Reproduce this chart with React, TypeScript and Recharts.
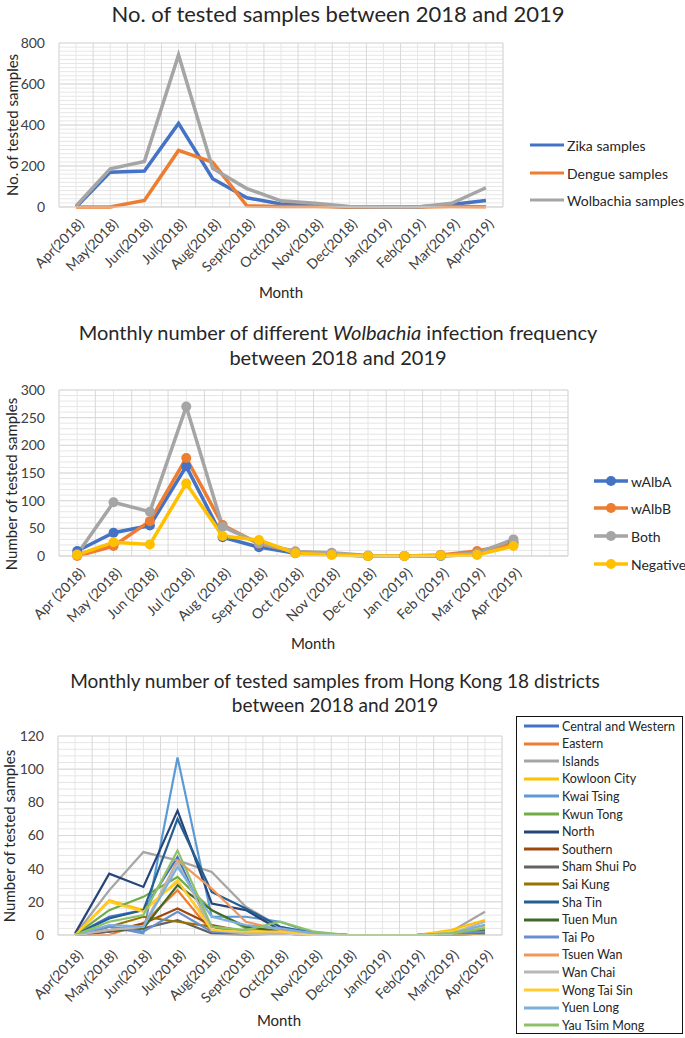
import { LineChart, Line, XAxis, YAxis, CartesianGrid } from "recharts";

// ---- chart 1: tested samples per month
const months1 = [
  "Apr(2018)", "May(2018)", "Jun(2018)", "Jul(2018)", "Aug(2018)", "Sept(2018)", "Oct(2018)",
  "Nov(2018)", "Dec(2018)", "Jan(2019)", "Feb(2019)", "Mar(2019)", "Apr(2019)",
];
const zikaSamples = [0, 170, 176, 408, 138, 45, 15, 6, 0, 0, 0, 12, 32];
const dengueSamples = [0, 0, 32, 276, 218, 6, 3, 2, 0, 0, 0, 2, 1];
const wolbachiaSamples = [5, 186, 222, 742, 188, 90, 30, 18, 2, 0, 0, 18, 94];

// ---- chart 2: infection frequency
const months2 = [
  "Apr (2018)", "May (2018)", "Jun (2018)", "Jul (2018)", "Aug (2018)", "Sept (2018)", "Oct (2018)",
  "Nov (2018)", "Dec (2018)", "Jan (2019)", "Feb (2019)", "Mar (2019)", "Apr (2019)", "",
];
const wAlbA = [9, 42, 55, 162, 34, 16, 5, 3, 0, 0, 0, 3, 25];
const wAlbB = [0, 18, 63, 177, 56, 22, 8, 3, 0, 0, 2, 9, 22];
const both = [3, 97, 80, 270, 53, 23, 8, 6, 1, 0, 1, 5, 30];
const negative = [2, 25, 21, 131, 36, 29, 5, 2, 0, 0, 1, 2, 18];

// ---- chart 3: 18 districts
const months3 = months1;
const districtNames = [
  "Central and Western", "Eastern", "Islands", "Kowloon City", "Kwai Tsing", "Kwun Tong",
  "North", "Southern", "Sham Shui Po", "Sai Kung", "Sha Tin", "Tuen Mun", "Tai Po",
  "Tsuen Wan", "Wan Chai", "Wong Tai Sin", "Yuen Long", "Yau Tsim Mong",
];
const centralWestern = [0, 11, 15, 47, 2, 1, 1, 0, 0, 0, 0, 0, 2];
const eastern = [0, 0, 7, 27, 2, 1, 1, 0, 0, 0, 0, 1, 4];
const islands = [0, 27, 50, 45, 38, 17, 5, 1, 0, 0, 0, 2, 14];
const kowloonCity = [0, 21, 15, 32, 5, 2, 3, 1, 0, 0, 0, 3, 9];
const kwaiTsing = [0, 5, 1, 107, 11, 11, 8, 1, 0, 0, 0, 1, 6];
const kwunTong = [0, 15, 23, 35, 15, 4, 3, 1, 0, 0, 0, 1, 3];
const north = [1, 37, 29, 75, 19, 15, 3, 1, 0, 0, 0, 0, 1];
const southern = [0, 2, 7, 16, 6, 2, 1, 0, 0, 0, 0, 1, 2];
const shamShuiPo = [0, 2, 4, 9, 1, 0, 1, 0, 0, 0, 0, 0, 1];
const saiKung = [0, 5, 11, 8, 5, 1, 1, 0, 0, 0, 0, 0, 1];
const shaTin = [0, 10, 15, 70, 26, 16, 5, 1, 0, 0, 0, 1, 3];
const tuenMun = [0, 3, 4, 30, 15, 5, 2, 0, 0, 0, 0, 1, 3];
const taiPo = [0, 5, 2, 14, 2, 1, 1, 0, 0, 0, 0, 1, 2];
const tsuenWan = [0, 3, 5, 45, 28, 8, 3, 1, 0, 0, 0, 1, 5];
const wanChai = [0, 3, 5, 44, 3, 1, 1, 0, 0, 0, 0, 1, 8];
const wongTaiSin = [0, 20, 14, 33, 3, 2, 2, 0, 0, 0, 0, 2, 5];
const yuenLong = [0, 6, 5, 41, 11, 6, 4, 1, 0, 0, 0, 1, 6];
const yauTsimMong = [0, 8, 12, 51, 5, 3, 8, 2, 0, 0, 0, 1, 4];
const districtValues = [
  centralWestern, eastern, islands, kowloonCity, kwaiTsing, kwunTong, north, southern,
  shamShuiPo, saiKung, shaTin, tuenMun, taiPo, tsuenWan, wanChai, wongTaiSin, yuenLong, yauTsimMong,
];

const districtColors = [
  "#4472C4", "#ED7D31", "#A5A5A5", "#FFC000", "#5B9BD5", "#70AD47", "#264478", "#9E480E",
  "#636363", "#997300", "#255E91", "#43682B", "#698ED0", "#F1975A", "#B7B7B7", "#FFCD33",
  "#7CAFDD", "#8CC168",
];

const FONT = "Lato, 'Open Sans', sans-serif";
const TEXT = "#404040";
const MAJOR = "#D9D9D9";
const MINOR = "#E6E6E6";

const rows1 = months1.map((m, i) => ({
  m,
  zika: zikaSamples[i],
  dengue: dengueSamples[i],
  wol: wolbachiaSamples[i],
}));
const rows2 = months2.map((m, i) => ({
  m,
  a: wAlbA[i],
  b: wAlbB[i],
  both: both[i],
  neg: negative[i],
}));
const rows3 = months3.map((m, i) => {
  const r: Record<string, any> = { m };
  districtValues.forEach((vals, k) => (r["d" + k] = vals[i]));
  return r;
});

// rotated month label, its end sits just under the category centre
function MonthTick(props: any) {
  const { x, y, payload, drop } = props;
  return (
    <g transform={`translate(${x + 6},${y + (drop || 8)})`}>
      <text textAnchor="end" transform="rotate(-45)" fontSize={14} fill={TEXT} fontFamily={FONT} dy={4}>
        {payload.value}
      </text>
    </g>
  );
}

// minor horizontal rows between major ticks
const minorRows = (max: number, step: number) => (p: any) => {
  const out: number[] = [];
  for (let v = 0; v <= max; v += step) out.push(p.offset.top + p.offset.height * (1 - v / max));
  return out;
};
// category band edges
const bandEdges = (n: number) => (p: any) => {
  const out: number[] = [];
  for (let i = 0; i <= n; i++) out.push(p.offset.left + (p.offset.width * i) / n);
  return out;
};

function Txt({ x, y, size, children, rotate }: any) {
  return (
    <div
      style={{
        position: "absolute",
        left: x,
        top: y,
        transform: `translate(-50%, -50%)${rotate ? ` rotate(${rotate}deg)` : ""}`,
        fontSize: size,
        fontFamily: FONT,
        color: "#262626",
        whiteSpace: "nowrap",
      }}
    >
      {children}
    </div>
  );
}

function LegendLine({ x, y, color, label, size, dot, len }: any) {
  const w = len || 34;
  return (
    <div style={{ position: "absolute", left: x, top: y - 10, height: 20, display: "flex", alignItems: "center" }}>
      <svg width={w} height={14} style={{ display: "block" }}>
        <line x1={0} x2={w} y1={7} y2={7} stroke={color} strokeWidth={dot ? 3.5 : 3} />
        {dot && <circle cx={w / 2} cy={7} r={5} fill={color} />}
      </svg>
      <span style={{ fontSize: size, fontFamily: FONT, color: "#262626", marginLeft: 3 }}>{label}</span>
    </div>
  );
}

export default function App() {
  const yTick = { fontSize: 14, fill: TEXT, fontFamily: FONT };
  return (
    <div style={{ position: "absolute", left: 0, top: 0, width: 685, height: 1038, background: "#fff", overflow: "hidden" }}>
      {/* ---------- chart 1 ---------- */}
      <Txt x={338} y={13} size={22}>No. of tested samples between 2018 and 2019</Txt>
      <Txt x={12} y={125} size={15} rotate={-90}>No. of tested samples</Txt>
      <div style={{ position: "absolute", left: 0, top: 0 }}>
        <LineChart width={685} height={300} data={rows1} margin={{ top: 43, right: 182, left: 0, bottom: 0 }}>
          <CartesianGrid stroke={MINOR} horizontalCoordinatesGenerator={minorRows(800, 20)} />
          <CartesianGrid stroke={MAJOR} verticalCoordinatesGenerator={bandEdges(13)} />
          <XAxis dataKey="m" scale="band" height={93} interval={0} tickSize={0} tickMargin={6} tick={<MonthTick drop={9} />} stroke={MAJOR} />
          <YAxis width={59} domain={[0, 800]} ticks={[0, 100, 200, 300, 400, 500, 600, 700, 800]} axisLine={false} tickSize={0} tickMargin={14} tick={yTick} />
          <Line dataKey="zika" stroke="#4472C4" strokeWidth={3.5} dot={false} isAnimationActive={false} />
          <Line dataKey="dengue" stroke="#ED7D31" strokeWidth={3.5} dot={false} isAnimationActive={false} />
          <Line dataKey="wol" stroke="#A5A5A5" strokeWidth={3.5} dot={false} isAnimationActive={false} />
        </LineChart>
      </div>
      <Txt x={281} y={292} size={15}>Month</Txt>
      <LegendLine x={530} y={145} color="#4472C4" label="Zika samples" size={14} />
      <LegendLine x={530} y={173} color="#ED7D31" label="Dengue samples" size={14} />
      <LegendLine x={530} y={200} color="#A5A5A5" label="Wolbachia samples" size={14} />

      {/* ---------- chart 2 ---------- */}
      <Txt x={338} y={332} size={20}>
        Monthly number of different <i>Wolbachia</i> infection frequency
      </Txt>
      <Txt x={338} y={357} size={20}>between 2018 and 2019</Txt>
      <Txt x={11} y={484} size={15} rotate={-90}>Number of tested samples</Txt>
      <div style={{ position: "absolute", left: 0, top: 340 }}>
        <LineChart width={685} height={300} data={rows2} margin={{ top: 50, right: 117, left: 0, bottom: 0 }}>
          <CartesianGrid stroke={MINOR} horizontalCoordinatesGenerator={minorRows(300, 10)} />
          <CartesianGrid stroke={MAJOR} verticalCoordinatesGenerator={bandEdges(14)} />
          <XAxis dataKey="m" scale="band" height={84} interval={0} tickSize={0} tickMargin={6} tick={<MonthTick drop={9} />} stroke={MAJOR} />
          <YAxis width={59} domain={[0, 300]} ticks={[0, 50, 100, 150, 200, 250, 300]} axisLine={false} tickSize={0} tickMargin={14} tick={yTick} />
          <Line dataKey="a" stroke="#4472C4" strokeWidth={3.5} dot={{ r: 5, fill: "#4472C4", strokeWidth: 0 }} isAnimationActive={false} />
          <Line dataKey="b" stroke="#ED7D31" strokeWidth={3.5} dot={{ r: 5, fill: "#ED7D31", strokeWidth: 0 }} isAnimationActive={false} />
          <Line dataKey="both" stroke="#A5A5A5" strokeWidth={3.5} dot={{ r: 5, fill: "#A5A5A5", strokeWidth: 0 }} isAnimationActive={false} />
          <Line dataKey="neg" stroke="#FFC000" strokeWidth={3.5} dot={{ r: 5, fill: "#FFC000", strokeWidth: 0 }} isAnimationActive={false} />
        </LineChart>
      </div>
      <Txt x={313} y={643} size={15}>Month</Txt>
      <LegendLine x={594} y={481} color="#4472C4" label="wAlbA" size={14} dot />
      <LegendLine x={594} y={508} color="#ED7D31" label="wAlbB" size={14} dot />
      <LegendLine x={594} y={536} color="#A5A5A5" label="Both" size={14} dot />
      <LegendLine x={594} y={564} color="#FFC000" label="Negative" size={14} dot />

      {/* ---------- chart 3 ---------- */}
      <Txt x={335} y={680} size={19}>Monthly number of tested samples from Hong Kong 18 districts</Txt>
      <Txt x={335} y={704} size={19}>between 2018 and 2019</Txt>
      <Txt x={9} y={836} size={15} rotate={-90}>Number of tested samples</Txt>
      <div style={{ position: "absolute", left: 0, top: 700 }}>
        <LineChart width={685} height={330} data={rows3} margin={{ top: 36, right: 183, left: 0, bottom: 0 }}>
          <CartesianGrid stroke={MINOR} horizontalCoordinatesGenerator={minorRows(120, 4)} />
          <CartesianGrid stroke={MAJOR} verticalCoordinatesGenerator={bandEdges(13)} />
          <XAxis dataKey="m" scale="band" height={95} interval={0} tickSize={0} tickMargin={6} tick={<MonthTick drop={12} />} stroke={MAJOR} />
          <YAxis width={58} domain={[0, 120]} ticks={[0, 20, 40, 60, 80, 100, 120]} axisLine={false} tickSize={0} tickMargin={14} tick={yTick} />
          {districtNames.map((name, k) => (
            <Line
              key={name}
              name={name}
              dataKey={"d" + k}
              stroke={districtColors[k]}
              strokeWidth={2.2}
              dot={false}
              isAnimationActive={false}
            />
          ))}
        </LineChart>
      </div>
      <Txt x={279} y={1020} size={15}>Month</Txt>
      <div
        style={{
          position: "absolute",
          left: 516,
          top: 716,
          width: 167,
          height: 318,
          border: "1.5px solid #111",
          boxSizing: "border-box",
        }}
      />
      {districtNames.map((name, k) => (
        <LegendLine key={name} x={524} y={726 + k * 17.6} color={districtColors[k]} label={name} size={12.5} len={35} />
      ))}
    </div>
  );
}
